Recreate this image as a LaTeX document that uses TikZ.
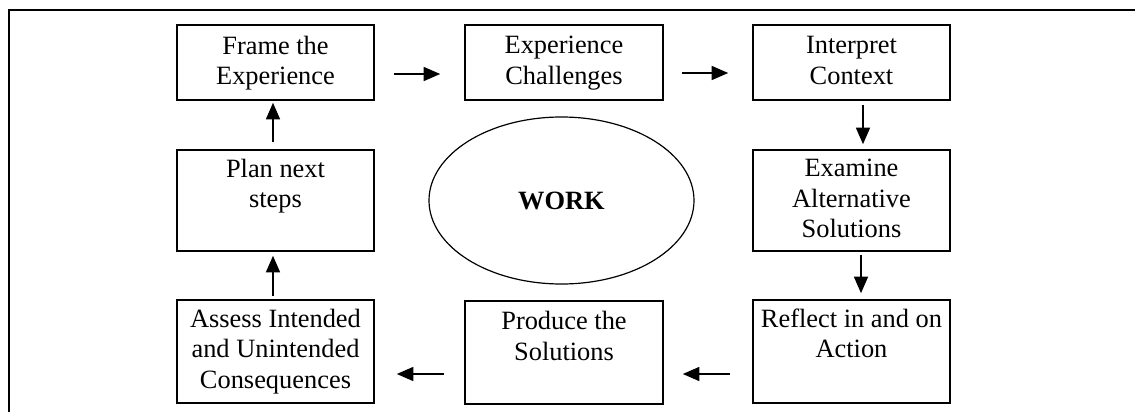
\documentclass[tikz,border=0pt]{standalone}
\usepackage{fontspec}
\setmainfont{Liberation Serif}
\usetikzlibrary{arrows.meta,shapes.geometric}
\begin{document}
\begin{tikzpicture}[x=1pt,y=-1pt,
  stepbox/.style={draw,line width=1.6pt,rectangle,inner sep=0pt},
  steptext/.style={anchor=base,inner sep=0pt,font=\fontsize{26.4}{30.5}\selectfont},
  arr/.style={line width=1.4pt,-{Triangle[length=16.5pt,width=14pt]}}]
\useasboundingbox (0,0) rectangle (1135,412);
% outer frame: top and left rules
\draw[line width=1.6pt] (9,412) -- (9,10) -- (1135,10);
% step boxes
\node[stepbox,minimum width=197pt,minimum height=75pt]  (frame)   at (275.5,62.5)  {};
\node[stepbox,minimum width=198pt,minimum height=75pt]  (exp)     at (564,62.5)    {};
\node[stepbox,minimum width=197pt,minimum height=75pt]  (interp)  at (851.5,62.5)  {};
\node[stepbox,minimum width=197pt,minimum height=101pt] (plan)    at (275.5,200.5) {};
\node[stepbox,minimum width=197pt,minimum height=101pt] (exam)    at (851.5,200.5) {};
\node[stepbox,minimum width=197pt,minimum height=103pt] (assess)  at (275.5,351.5) {};
\node[stepbox,minimum width=198pt,minimum height=103pt] (produce) at (564,352.5)   {};
\node[stepbox,minimum width=197pt,minimum height=103pt] (reflect) at (851.5,351.5) {};
% step texts, top aligned in their boxes
\node[steptext] (frame-t)   at ([yshift=-30pt]frame.north)     {\begin{tabular}[t]{@{}c@{}}Frame the\\Experience\end{tabular}};
\node[steptext] (exp-t)     at ([yshift=-29.5pt]exp.north)     {\begin{tabular}[t]{@{}c@{}}Experience\\Challenges\end{tabular}};
\node[steptext] (interp-t)  at ([yshift=-29.5pt]interp.north)  {\begin{tabular}[t]{@{}c@{}}Interpret\\Context\end{tabular}};
\node[steptext] (plan-t)    at ([yshift=-28pt]plan.north)      {\begin{tabular}[t]{@{}c@{}}Plan next\\steps\end{tabular}};
\node[steptext] (exam-t)    at ([yshift=-27.5pt]exam.north)    {\begin{tabular}[t]{@{}c@{}}Examine\\Alternative\\Solutions\end{tabular}};
\node[steptext] (assess-t)  at ([yshift=-28pt]assess.north)    {\begin{tabular}[t]{@{}c@{}}Assess Intended\\and Unintended\\Consequences\end{tabular}};
\node[steptext] (produce-t) at ([yshift=-29.5pt]produce.north) {\begin{tabular}[t]{@{}c@{}}Produce the\\Solutions\end{tabular}};
\node[steptext] (reflect-t) at ([yshift=-28pt]reflect.north)   {\begin{tabular}[t]{@{}c@{}}Reflect in and on\\Action\end{tabular}};
% central ellipse
\node[draw,ellipse,line width=1.2pt,inner sep=0pt,minimum width=265pt,minimum height=167pt] (work) at (561.5,200.5) {};
\node[steptext,font=\fontsize{26.4}{30.5}\selectfont\bfseries] (work-t) at ([yshift=-8.5pt]work.center) {WORK};
% cycle arrows
\draw[arr] ([shift={(19,11.5)}]frame.east)   -- ([shift={(-24,11.5)}]exp.west);
\draw[arr] ([shift={(18,10.5)}]exp.east)     -- ([shift={(-24,10.5)}]interp.west);
\draw[arr] ([shift={(11.5,4)}]interp.south)  -- ([shift={(11.5,-5)}]exam.north);
\draw[arr] ([shift={(9.5,3)}]exam.south)     -- ([shift={(9.5,-6)}]reflect.north);
\draw[arr] ([shift={(-22,22.5)}]reflect.west) -- ([shift={(19,21.5)}]produce.east);
\draw[arr] ([shift={(-20,21.5)}]produce.west) -- ([shift={(22,22.5)}]assess.east);
\draw[arr] ([shift={(-2.5,-3)}]assess.north) -- ([shift={(-2.5,4)}]plan.south);
\draw[arr] ([shift={(-2.5,-7)}]plan.north)   -- ([shift={(-2.5,2)}]frame.south);
\end{tikzpicture}
\end{document}
